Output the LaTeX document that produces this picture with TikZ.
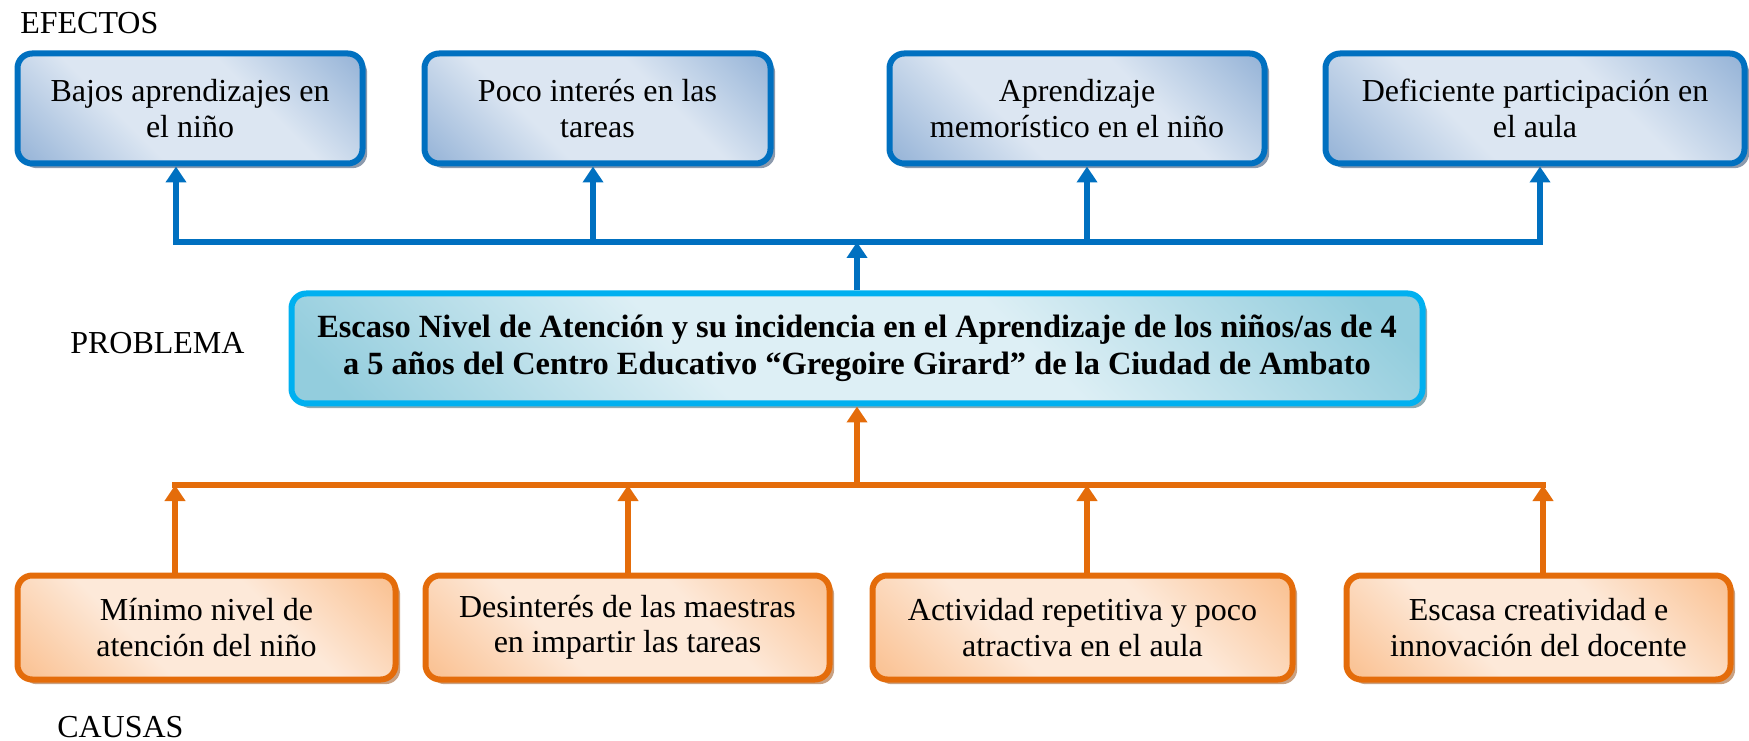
\documentclass[tikz,border=0pt]{standalone}
\usepackage{fontspec}
\setmainfont{Liberation Serif}
\usetikzlibrary{arrows.meta,shadows}
\definecolor{bluebd}{HTML}{0070C0}
\definecolor{bluelt}{HTML}{DCE6F2}
\definecolor{bluedk}{HTML}{95B3D7}
\definecolor{blueshd}{HTML}{8C9AAD}
\definecolor{cyanbd}{HTML}{00B0F0}
\definecolor{cyanlt}{HTML}{DDEFF5}
\definecolor{cyandk}{HTML}{93CDDD}
\definecolor{cyanshd}{HTML}{8FAAB1}
\definecolor{orgbd}{HTML}{E46C0A}
\definecolor{orglt}{HTML}{FDE9D9}
\definecolor{orgdk}{HTML}{FAC090}
\definecolor{orgshd}{HTML}{C9A182}
\pgfdeclareverticalshading{blueshade}{100bp}{color(0bp)=(bluedk); color(15bp)=(bluedk); color(38bp)=(bluelt); color(62bp)=(bluelt); color(85bp)=(bluedk); color(100bp)=(bluedk)}
\pgfdeclareverticalshading{cyanshade}{100bp}{color(0bp)=(cyandk); color(18bp)=(cyandk); color(40bp)=(cyanlt); color(60bp)=(cyanlt); color(82bp)=(cyandk); color(100bp)=(cyandk)}
\pgfdeclareverticalshading{orgshade}{100bp}{color(0bp)=(orgdk); color(15bp)=(orgdk); color(38bp)=(orglt); color(62bp)=(orglt); color(85bp)=(orgdk); color(100bp)=(orgdk)}
\tikzset{
  boxbase/.style={rounded corners=11pt, line width=4.5pt, align=center, inner sep=0pt,
    font=\fontsize{24}{26.5}\selectfont},
  effbox/.style={boxbase, draw=bluebd, shading=blueshade, shading angle=-45, minimum height=82.5pt,
    drop shadow={shadow xshift=3.5pt, shadow yshift=-3.5pt, fill=blueshd, opacity=1}},
  probbox/.style={boxbase, draw=cyanbd, shading=cyanshade, shading angle=-45, minimum height=82.5pt,
    font=\fontsize{24.3}{28}\selectfont\bfseries,
    drop shadow={shadow xshift=3.5pt, shadow yshift=-3.5pt, fill=cyanshd, opacity=1}},
  caubox/.style={boxbase, draw=orgbd, shading=orgshade, shading angle=-45, minimum height=78pt,
    drop shadow={shadow xshift=3.5pt, shadow yshift=-3.5pt, fill=orgshd, opacity=1}},
  lbl/.style={anchor=west, inner sep=0pt, font=\fontsize{24}{26.5}\selectfont},
  bline/.style={draw=bluebd, line width=4.25pt, line cap=rect},
  oline/.style={draw=orgbd, line width=4.25pt, line cap=rect},
  barrow/.style={draw=bluebd, line width=4.25pt, -{Triangle[width=15pt,length=12pt]}},
  oarrow/.style={draw=orgbd, line width=4.25pt, -{Triangle[width=15pt,length=12pt]}},
}
\begin{document}
\begin{tikzpicture}[x=0.75pt, y=-0.75pt]
\useasboundingbox (0,0) rectangle (1749,741);
% labels
\node[lbl] (lef) at (20,23) {EFECTOS};
\node[lbl] (lpr) at (70,343) {PROBLEMA};
\node[lbl] (lca) at (57,727) {CAUSAS};
% effects
\node[effbox, minimum width=345*0.75pt] (e1) at (190,108.5) {Bajos aprendizajes en\\el niño};
\node[effbox, minimum width=346*0.75pt] (e2) at (597.5,108.5) {Poco interés en las\\tareas};
\node[effbox, minimum width=375*0.75pt] (e3) at (1077,108.5) {Aprendizaje\\memorístico en el niño};
\node[effbox, minimum width=419*0.75pt] (e4) at (1535,108.5) {Deficiente participación en\\el aula};
% problem
\node[probbox, minimum width=1131*0.75pt] (p) at (857,348.5) {Escaso Nivel de Atención y su incidencia en el Aprendizaje de los niños/as de 4\\a 5 años del Centro Educativo “Gregoire Girard” de la Ciudad de Ambato};
% causes
\node[caubox, minimum width=378*0.75pt] (c1) at (206.5,627.5) {Mínimo nivel de\\atención del niño};
\node[caubox, minimum width=404*0.75pt] (c2) at (627.5,627.5) {Desinterés de las maestras\\en impartir las tareas};
\node[caubox, minimum width=420*0.75pt] (c3) at (1082.5,627.5) {Actividad repetitiva y poco\\atractiva en el aula};
\node[caubox, minimum width=384*0.75pt] (c4) at (1538.5,627.5) {Escasa creatividad e\\innovación del docente};
% blue connectors
\coordinate (ba1) at (176,242);
\coordinate (ba2) at (593,242);
\coordinate (ba3) at (1087,242);
\coordinate (ba4) at (1540,242);
\draw[bline] (ba1) -- (ba4);
\draw[barrow] (ba1) -- (ba1 |- e1.south);
\draw[barrow] (ba2) -- (ba2 |- e2.south);
\draw[barrow] (ba3) -- (ba3 |- e3.south);
\draw[barrow] (ba4) -- (ba4 |- e4.south);
\draw[barrow] (p.north) -- (p.north |- ba1);
% orange connectors
\coordinate (oa1) at (175,485);
\coordinate (oa2) at (628,485);
\coordinate (oa3) at (1087,485);
\coordinate (oa4) at (1543,485);
\draw[oline] (oa1) -- (oa4);
\draw[oarrow] (c1.north -| oa1) -- (oa1);
\draw[oarrow] (c2.north -| oa2) -- (oa2);
\draw[oarrow] (c3.north -| oa3) -- (oa3);
\draw[oarrow] (c4.north -| oa4) -- (oa4);
\draw[oarrow] (p.south |- oa1) -- (p.south);
\end{tikzpicture}
\end{document}
